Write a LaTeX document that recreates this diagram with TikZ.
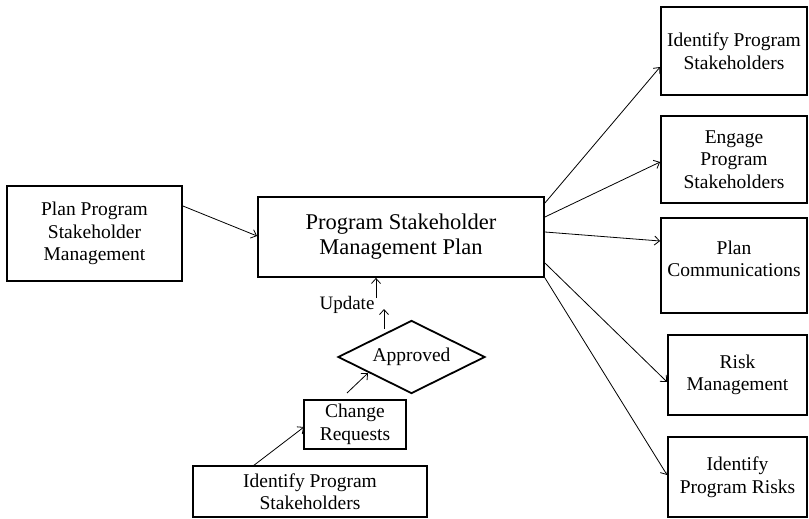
\documentclass[tikz,border=0pt]{standalone}
\usepackage{fontspec}
\setmainfont{Liberation Serif}
\usetikzlibrary{shapes.geometric,arrows.meta}
\begin{document}
\begin{tikzpicture}[x=1pt,y=-1pt,
  box/.style={draw,line width=1.8pt,inner sep=0pt,align=center,
    font=\fontsize{19.5}{22.5}\selectfont},
  bigbox/.style={box,font=\fontsize{22.5}{25}\selectfont},
  decision/.style={box,diamond,aspect=2},
  link/.style={line width=0.8pt,-{Straight Barb[length=5pt,width=9pt]}},
]
\useasboundingbox (0,0) rectangle (809,519);

% central plan
\node[bigbox,minimum width=286pt,minimum height=80pt] (plan) at (401,237)
  {Program Stakeholder\\Management Plan};

% input on the left
\node[box,minimum width=175pt,minimum height=95pt] (planning) at (94.5,233.5)
  {Plan Program\\Stakeholder\\Management};

% processes fed by the plan
\node[box,minimum width=146pt,minimum height=88pt] (identify) at (734,51)
  {Identify Program\\Stakeholders};
\node[box,minimum width=146pt,minimum height=87pt] (engage) at (734,159.5)
  {Engage\\Program\\Stakeholders};
\node[box,minimum width=146pt,minimum height=95pt,text depth=14pt] (comms) at (734,265.5)
  {Plan\\Communications};
\node[box,minimum width=139pt,minimum height=80pt] (risk) at (737.5,375)
  {Risk\\Management};
\node[box,minimum width=139pt,minimum height=80pt] (risks) at (737.5,477)
  {Identify\\Program Risks};

% change control loop
\node[box,minimum width=234pt,minimum height=51pt] (source) at (310,491.5)
  {Identify Program\\Stakeholders};
\node[box,minimum width=102pt,minimum height=49pt] (change) at (355,424.5)
  {Change\\Requests};
\node[decision,minimum width=147pt,minimum height=73pt] (approved) at (411.5,357)
  {Approved};
\node[font=\fontsize{19}{22}\selectfont,inner sep=0pt] (update) at (347,305)
  {Update};

% free ends of the short arrows
\coordinate (srcTail) at (253,466);
\coordinate (chgHead) at (304,427);
\coordinate (chgTail) at (347,393);
\coordinate (aprHead) at (368,373);
\coordinate (aprTail) at (384,329);
\coordinate (updHead) at (384,309);
\coordinate (updTail) at (376,298);

\draw[link] (srcTail) -- (chgHead);
\draw[link] (chgTail) -- (aprHead);
\draw[link] (aprTail) -- (updHead);
\draw[link] (updTail) -- (updTail |- plan.south);

\draw[link] (planning.east |- 0,206) -- (plan.west |- 0,236);

\draw[link] (plan.east |- 0,203) -- (identify.west |- 0,67);
\draw[link] (plan.east |- 0,217) -- (engage.west |- 0,162);
\draw[link] (plan.east |- 0,232) -- (comms.west |- 0,241);
\draw[link] (plan.east |- 0,263) -- (risk.west |- 0,382);
\draw[link] (plan.south east) -- (risks.west |- 0,475);
\end{tikzpicture}
\end{document}
